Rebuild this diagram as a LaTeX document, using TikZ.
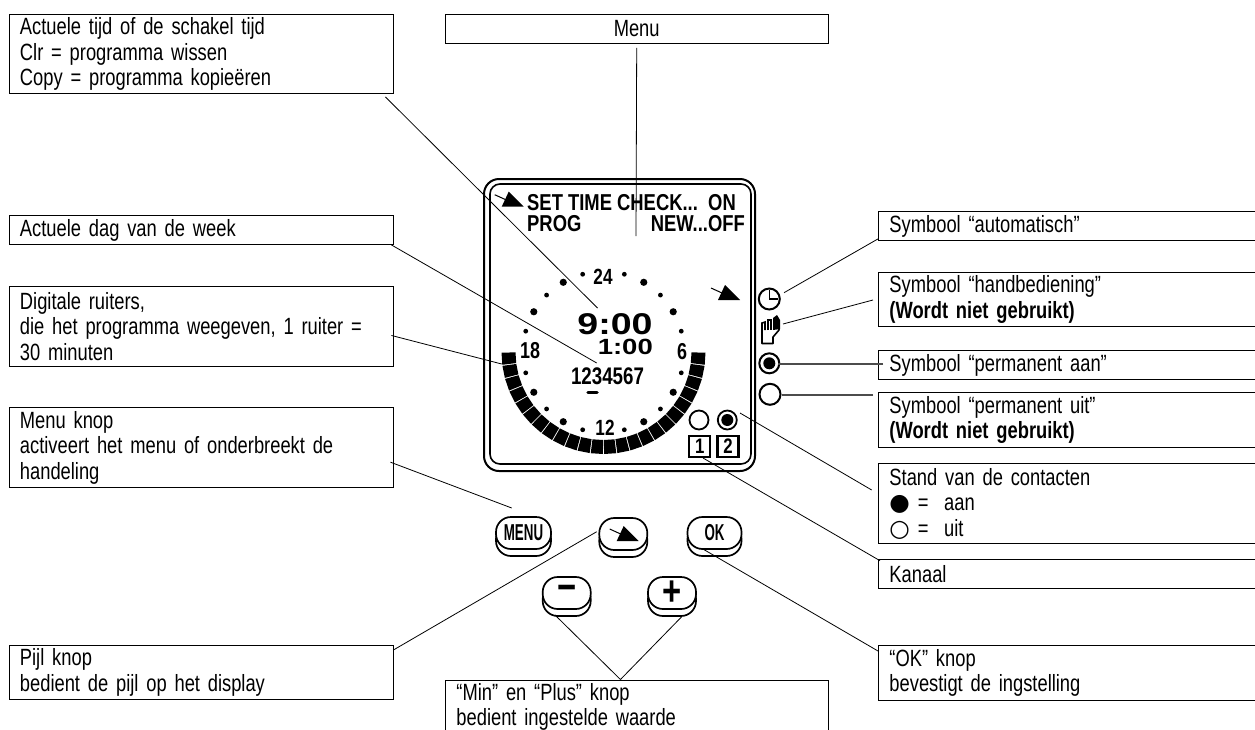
\documentclass[tikz,border=0pt]{standalone}
\usepackage{fontspec}
\setmainfont[FakeStretch=0.78,WordSpace=0.9]{Liberation Sans}
\newfontfamily\lcdfont[FakeStretch=0.8]{Liberation Sans}
\newfontfamily\knopfont[FakeStretch=0.58]{Liberation Sans}
\newfontfamily\tijdfont[FakeStretch=1.25]{Liberation Sans}
\newfontfamily\symfont{DejaVu Sans}
\usetikzlibrary{shadows}

\tikzset{
    lcdarrow/.pic={
        \fill (0,0) -- (22,0) -- (7,-15) -- cycle;
        \draw[line width=1pt] (-7,-12) -- (4,-7);
    }
}

\begin{document}
\begin{tikzpicture}[
    x=1pt,
    y=-1pt,
    tekstvak/.style={
        draw,
        anchor=north west,
        align=left,
        line width=0.9pt,
        inner xsep=11pt,
        inner ysep=0pt,
        font=\fontsize{23.5}{25.5}\selectfont
    },
    linksvak/.style={tekstvak, text width=362pt},
    rechtsvak/.style={tekstvak, text width=378pt},
    lijn/.style={line width=0.8pt},
    lcdtext/.style={inner sep=0pt, font=\lcdfont\bfseries\fontsize{23}{23}\selectfont},
    knop/.style={
        draw,
        fill=white,
        rounded corners=15pt,
        line width=1.7pt,
        minimum height=32pt,
        inner sep=0pt,
        copy shadow={shadow xshift=0pt, shadow yshift=-7pt, draw=black, fill=white}
    },
    kanaalvak/.style={
        draw,
        line width=2.2pt,
        minimum width=21pt,
        minimum height=21pt,
        inner sep=0pt,
        font=\lcdfont\bfseries\fontsize{21}{21}\selectfont
    }
]
\useasboundingbox (0,0) rectangle (1255,729);

% Left boxes
\node[linksvak, minimum height=79pt] (tijd) at (8.5,14)
{Actuele tijd of de schakel tijd\\Clr = programma wissen\\Copy = programma kopieëren};

\node[linksvak, minimum height=29pt] (dag) at (8.5,215)
{Actuele dag van de week};

\node[linksvak, minimum height=80pt] (ruiters) at (8.5,286)
{Digitale ruiters,\\die het programma weegeven, 1 ruiter =\\30 minuten};

\node[linksvak, minimum height=80pt] (menuknop) at (8.5,407)
{Menu knop\\activeert het menu of onderbreekt de\\handeling};

\node[linksvak, minimum height=54pt] (pijl) at (8.5,645)
{Pijl knop\\bedient de pijl op het display};

% Middle boxes
\node[tekstvak, text width=361.5pt, align=center, minimum height=29pt] (menu) at (444.5,14)
{Menu};

\node[tekstvak, text width=361pt, minimum height=54pt] (minplus) at (445,679.5)
{“Min” en “Plus” knop\\bedient ingestelde waarde};

% Right boxes
\node[rechtsvak, minimum height=29pt] (auto) at (878,211)
{Symbool “automatisch”};

\node[rechtsvak, minimum height=54pt] (hand) at (878,272)
{Symbool “handbediening”\\\textbf{(Wordt niet gebruikt)}};

\node[rechtsvak, minimum height=29pt] (aan) at (878,350)
{Symbool “permanent aan”};

\node[rechtsvak, minimum height=55pt] (uit) at (878,392)
{Symbool “permanent uit”\\\textbf{(Wordt niet gebruikt)}};

\node[rechtsvak, minimum height=80pt] (stand) at (878,463)
{Stand van de contacten\\{\symfont●} =\ \ aan\\{\symfont○} =\ \ uit};

\node[rechtsvak, minimum height=29pt] (kanaal) at (878,559)
{Kanaal};

\node[rechtsvak, minimum height=55pt] (ok) at (878,645)
{“OK” knop\\bevestigt de ingstelling};

% Display
\draw[line width=2pt, rounded corners=15pt] (484,179) rectangle (755,471);
\draw[line width=1.6pt, rounded corners=10pt] (490,184) rectangle (751,464);

\pic at (501.7,206.7) {lcdarrow};
\node[lcdtext, anchor=base west] (set) at (527,210) {SET TIME CHECK...};
\node[lcdtext, anchor=base west] (on) at (708,210) {ON};
\node[lcdtext, anchor=base west] (prog) at (527,231.7) {PROG};
\node[lcdtext, anchor=base east] (new) at (745,231.7) {NEW...OFF};
\pic at (718,300) {lcdarrow};

% Dial
\begin{scope}[shift={(603.5,352)}]
    \foreach \i in {0,...,23}
        \fill ({\i*7.5+0.3}:88) -- ({\i*7.5+0.3}:102) -- ({\i*7.5+7.2}:102) -- ({\i*7.5+7.2}:88) -- cycle;
    \foreach \a in {15,45,75,105,135,165,195,225,255,285,315,345}
        \fill (\a:80.5) circle (2.4);
    \foreach \a in {30,60,120,150,210,240,300,330}
        \fill (\a:80.5) circle (3.6);
\end{scope}

\node[lcdtext, font=\bfseries\fontsize{22}{22}\selectfont] (uur24) at (603,276.5) {24};
\node[lcdtext, font=\bfseries\fontsize{22}{22}\selectfont] (uur12) at (605,428) {12};
\node[lcdtext, font=\bfseries\fontsize{23}{23}\selectfont] (uur18) at (530,350.5) {18};
\node[lcdtext, font=\bfseries\fontsize{23}{23}\selectfont] (uur6) at (682,351.5) {6};

\node[lcdtext, anchor=base, font=\tijdfont\bfseries\fontsize{30}{30}\selectfont] (tijd9) at (615,334) {9:00};
\node[lcdtext, anchor=base east, font=\tijdfont\bfseries\fontsize{22}{22}\selectfont] (tijd1) at (653,354) {1:00};
\node[lcdtext, anchor=base, font=\bfseries\fontsize{24}{24}\selectfont] (dagen) at (607.5,384.3) {1234567};
\draw[line width=3.5pt, line cap=round] (588,392.5) -- (597,392.5);

% Contacts and channels
\draw[line width=1.8pt] (699,420) circle (9.5);
\draw[line width=1.8pt] (727.3,420) circle (9.5);
\fill (727.3,420) circle (6);
\node[kanaalvak] (kanaal1) at (699.7,446.2) {1};
\node[kanaalvak] (kanaal2) at (728,446.2) {2};

% Symbols
\draw[line width=2pt] (769.3,299) circle (10.5);
\draw[line width=1.6pt] (769.5,290) -- (769.5,299) -- (778,299);
\draw[line width=1.6pt, line join=round] (762,327) -- (762,343.5) -- (773,343.5) -- (773,337) -- (779,330) -- (779,320);
\draw[line width=1.6pt] (762,327) -- (762,323) -- (765,322) -- (765,330);
\draw[line width=1.6pt] (768,330) -- (768,320) -- (771,320) -- (771,330);
\fill (773,330) -- (773,318) -- (777,315) -- (780,320) -- (780,329) -- cycle;
\draw[line width=2pt] (769.3,363.3) circle (10);
\fill (769.3,363.3) circle (6);
\draw[line width=2pt] (770,394.3) circle (10.5);

% Buttons
\node[knop, minimum width=55pt, font=\knopfont\bfseries\fontsize{23}{23}\selectfont] (btn_menu) at (523.5,533) {MENU};
\node[knop, minimum width=48pt] (btn_pijl) at (623.3,534) {};
\node[knop, minimum width=54pt, font=\knopfont\bfseries\fontsize{23}{23}\selectfont] (btn_ok) at (714.5,533) {OK};
\node[knop, minimum width=48pt, font=\bfseries\fontsize{42}{42}\selectfont] (btn_min) at (566.7,593) {−};
\node[knop, minimum width=48pt, font=\bfseries\fontsize{42}{42}\selectfont] (btn_plus) at (672,593) {+};
\pic at (616.7,541) {lcdarrow};

% Connection ends
\coordinate (tijd_end) at (597.5,308);
\coordinate (menu_end) at (636,236);
\coordinate (dag_end) at (596.7,363);
\coordinate (ruiters_end) at (501.7,364);
\coordinate (menuknop_end) at (511.7,508);
\coordinate (pijl_end) at (596.7,531.7);
\coordinate (min_end) at (555,615);
\coordinate (plus_end) at (681.7,616.7);
\coordinate (ok_end) at (701.7,548.3);
\coordinate (kanaal_end) at (703,458);
\coordinate (stand_end) at (740,413);
\coordinate (uit_end) at (781.7,395);
\coordinate (aan_end) at (778,364);
\coordinate (hand_end) at (783,324);
\coordinate (auto_end) at (784,292.7);

% Connections
\draw[lijn] ([xshift=-8pt,yshift=-3pt]tijd.south east) -- (tijd_end);
\draw[lijn] ([yshift=-4pt]menu.south) -- (menu_end);
\draw[lijn] ([xshift=-2pt]dag.south east) -- (dag_end);
\draw[lijn] ([xshift=-2pt,yshift=-9pt]ruiters.east) -- (ruiters_end);
\draw[lijn] ([xshift=-3pt,yshift=-14.7pt]menuknop.east) -- (menuknop_end);
\draw[lijn] ([yshift=-5pt]pijl.north east) -- (pijl_end);
\draw[lijn] ([xshift=-16.5pt]minplus.north) -- (min_end);
\draw[lijn] ([xshift=-16.5pt]minplus.north) -- (plus_end);
\draw[lijn] ([yshift=-6pt]ok.north west) -- (ok_end);
\draw[lijn] ([xshift=2pt,yshift=-1.7pt]kanaal.north west) -- (kanaal_end);
\draw[lijn] ([xshift=-6.3pt,yshift=-27pt]stand.north west) -- (stand_end);
\draw[line width=1.3pt, black!70] ([xshift=-5pt,yshift=-3pt]uit.north west) -- (uit_end);
\draw[line width=1.3pt, black!70] ([xshift=5pt,yshift=-14pt]aan.north west) -- (aan_end);
\draw[lijn] ([xshift=-5pt,yshift=-28pt]hand.north west) -- (hand_end);
\draw[lijn] ([yshift=2pt]auto.south west) -- (auto_end);

\end{tikzpicture}
\end{document}
